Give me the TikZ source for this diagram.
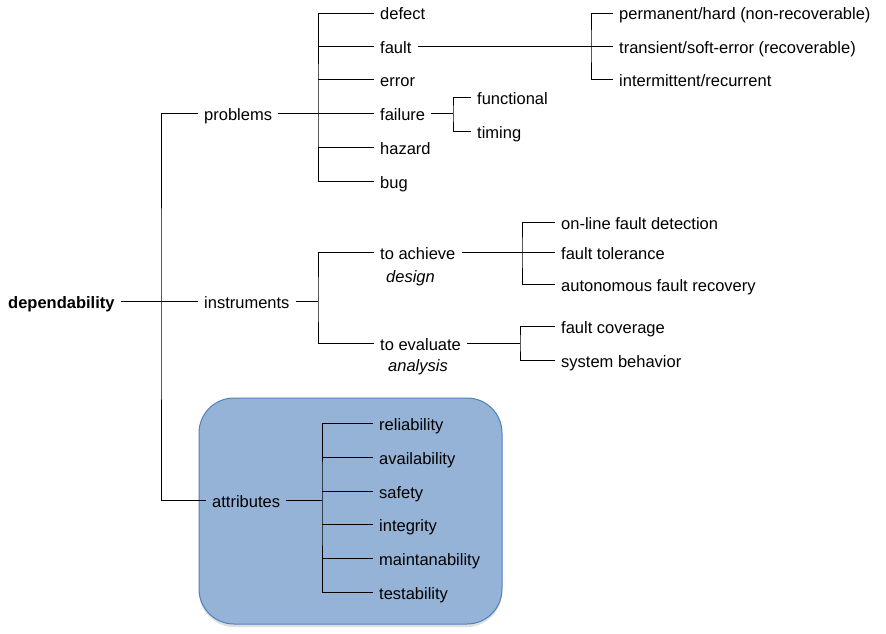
\documentclass[tikz,border=0pt]{standalone}
\usepackage{fontspec}
\setmainfont{Liberation Sans}
\usepackage{tikz}
\usetikzlibrary{positioning,shadows}
\definecolor{BoxFill}{HTML}{95B3D7}
\definecolor{BoxLine}{HTML}{4F81BD}

\begin{document}
\begin{tikzpicture}[
  x=1pt, y=-1pt,
  item/.style={anchor=west, inner xsep=6pt, inner ysep=0pt, text height=14pt, text depth=0pt,
    font=\fontsize{16.5}{18}\selectfont},
  rootitem/.style={item, font=\fontsize{16.5}{18}\selectfont\bfseries},
  note/.style={item, font=\fontsize{16.5}{18}\selectfont\itshape},
  link/.style={line width=0.9pt, black},
  attrbox/.style={draw=BoxLine, line width=1pt, fill=BoxFill, rounded corners=35pt,
    drop shadow={opacity=0.25, shadow xshift=0pt, shadow yshift=-3pt}}
]
\useasboundingbox (0,0) rectangle (886,634);

% Attributes box (behind)
\draw[attrbox] (199,398) rectangle (502,624);

% Root and first level
\node[rootitem] (dep) at (2,301) {dependability};
\node[item] (problems) at (198,113) {problems};
\node[item] (instruments) at (198,301) {instruments};
\node[item] (attributes) at (206,500) {attributes};

% Problems
\foreach \name/\txt/\y in {defect/defect/13, fault/fault/46, error/error/79,
    failure/failure/113, hazard/hazard/147, bug/bug/181} {
  \node[item] (\name) at (374,\y) {\txt};
}
\node[item] (permanent) at (613,13) {permanent/hard (non-recoverable)};
\node[item] (transient) at (613,46) {transient/soft-error (recoverable)};
\node[item] (intermittent) at (613,79) {intermittent/recurrent};
\node[item] (functional) at (471,97) {functional};
\node[item] (timing) at (471,131) {timing};

% Instruments
\node[item] (achieve) at (374,252) {to achieve};
\node[note] (design) at (380,275) {design};
\node[item] (evaluate) at (374,343) {to evaluate};
\node[note] (analysis) at (382,364) {analysis};
\node[item] (online) at (555,222) {on-line fault detection};
\node[item] (tolerance) at (555,252) {fault tolerance};
\node[item] (autonomous) at (555,284) {autonomous fault recovery};
\node[item] (coverage) at (555,326) {fault coverage};
\node[item] (behavior) at (555,360) {system behavior};

% Attributes
\foreach \name/\txt/\y in {reliability/reliability/423, availability/availability/457,
    safety/safety/491, integrity/integrity/524, maintain/maintanability/558,
    testability/testability/592} {
  \node[item] (\name) at (373,\y) {\txt};
}

% Junctions
\coordinate (jroot) at (161,301);
\coordinate (jprob) at (318,113);
\coordinate (jfault) at (591,46);
\coordinate (jfail) at (453,113);
\coordinate (jinst) at (318,301);
\coordinate (jach) at (522,252);
\coordinate (jeval) at (520,343);
\coordinate (jattr) at (322,500);

% Connectors
\draw[link] (dep.east) -- (instruments.west);
\draw[link] (problems.west) -| (jroot) |- (attributes.west);

\draw[link] (problems.east) -- (failure.west);
\draw[link] (defect.west) -| (jprob) |- (bug.west);
\foreach \n in {fault,error,hazard}
  \draw[link] (jprob |- \n.west) -- (\n.west);

\draw[link] (fault.east) -- (transient.west);
\draw[link] (permanent.west) -| (jfault) |- (intermittent.west);
\draw[link] (failure.east) -- (jfail);
\draw[link] (functional.west) -| (jfail) |- (timing.west);

\draw[link] (instruments.east) -- (jinst);
\draw[link] (achieve.west) -| (jinst) |- (evaluate.west);
\draw[link] (achieve.east) -- (tolerance.west);
\draw[link] (online.west) -| (jach) |- (autonomous.west);
\draw[link] (evaluate.east) -- (jeval);
\draw[link] (coverage.west) -| (jeval) |- (behavior.west);

\draw[link] (attributes.east) -- (jattr);
\draw[link] (reliability.west) -| (jattr) |- (testability.west);
\foreach \n in {availability,safety,integrity,maintain}
  \draw[link] (jattr |- \n.west) -- (\n.west);

\end{tikzpicture}
\end{document}
